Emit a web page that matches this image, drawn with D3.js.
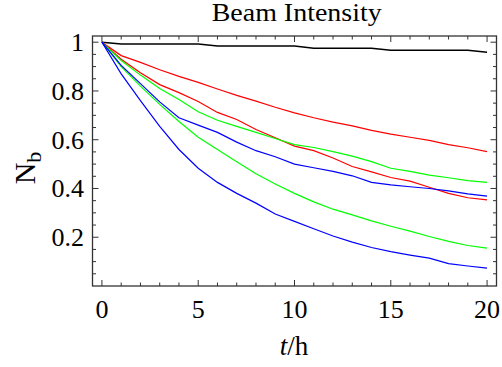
<!DOCTYPE html>
<html>
<head>
<meta charset="utf-8">
<script src="https://cdn.jsdelivr.net/npm/d3@7"></script>
<style>
  body { margin: 0; background: #fff; }
</style>
</head>
<body>
<script>
const width = 502;
const height = 367;
const serif = "\"Liberation Serif\"";

// hours
const hours = d3.range(0, 21);

// beam intensity curves, one value per hour
const blackSeries = [1.0, 0.993, 0.993, 0.993, 0.993, 0.993, 0.984, 0.984, 0.984, 0.984, 0.984, 0.975, 0.975, 0.975, 0.975, 0.967, 0.967, 0.967, 0.967, 0.967, 0.959];
const redUpper = [1.0, 0.945, 0.917, 0.887, 0.86, 0.835, 0.808, 0.782, 0.758, 0.733, 0.71, 0.69, 0.672, 0.657, 0.638, 0.623, 0.61, 0.597, 0.58, 0.567, 0.551];
const redLower = [1.0, 0.93, 0.875, 0.826, 0.793, 0.757, 0.712, 0.683, 0.642, 0.608, 0.574, 0.555, 0.525, 0.49, 0.468, 0.445, 0.43, 0.405, 0.38, 0.362, 0.353];
const greenUpper = [1.0, 0.925, 0.865, 0.81, 0.765, 0.715, 0.68, 0.655, 0.63, 0.605, 0.58, 0.568, 0.551, 0.533, 0.51, 0.483, 0.47, 0.455, 0.444, 0.432, 0.425];
const greenLower = [1.0, 0.9, 0.82, 0.745, 0.675, 0.61, 0.56, 0.51, 0.46, 0.418, 0.38, 0.345, 0.315, 0.292, 0.267, 0.245, 0.225, 0.203, 0.183, 0.166, 0.155];
const blueUpper = [1.0, 0.905, 0.83, 0.755, 0.69, 0.66, 0.63, 0.59, 0.555, 0.53, 0.5, 0.485, 0.47, 0.452, 0.425, 0.415, 0.407, 0.4, 0.39, 0.378, 0.369];
const blueLower = [1.0, 0.87, 0.76, 0.655, 0.56, 0.483, 0.425, 0.38, 0.34, 0.295, 0.265, 0.235, 0.205, 0.18, 0.158, 0.141, 0.127, 0.114, 0.092, 0.082, 0.073];

const seriesList = [
    { values: blackSeries, color: "#000000", w: 1.5 },
    { values: redUpper, color: "#ff0000", w: 1.2 },
    { values: redLower, color: "#ff0000", w: 1.2 },
    { values: greenUpper, color: "#00ff00", w: 1.2 },
    { values: greenLower, color: "#00ff00", w: 1.2 },
    { values: blueUpper, color: "#0000ff", w: 1.2 },
    { values: blueLower, color: "#0000ff", w: 1.2 }
];

const xTickLabels = [0, 5, 10, 15, 20];
const yTickLabels = [0.2, 0.4, 0.6, 0.8, 1];

const x = d3.scaleLinear().domain([-0.49, 20.49]).range([92.5, 496.5]);
const y = d3.scaleLinear().domain([0, 1.0254]).range([286, 36]);

const svg = d3.create("svg")
    .attr("width", width)
    .attr("height", height);

// curves
const line = d3.line()
    .x((d, i) => x(hours[i]))
    .y(d => y(d));

svg.append("g")
    .selectAll("path")
    .data(seriesList)
    .join("path")
    .attr("d", d => line(d.values))
    .attr("fill", "none")
    .attr("stroke", d => d.color)
    .attr("stroke-width", d => d.w);

// frame ticks (inward, all four sides)
const frameColor = "#333";
const xMinor = d3.range(0, 21, 1);
const yMinor = d3.range(1, 21).map(v => v * 0.05);
const ticks = svg.append("g").attr("stroke", frameColor).attr("stroke-width", 1);

xMinor.forEach(t => {
    const len = t % 5 === 0 ? 6 : 3.5;
    ticks.append("line").attr("x1", x(t)).attr("x2", x(t)).attr("y1", 286).attr("y2", 286 - len);
    ticks.append("line").attr("x1", x(t)).attr("x2", x(t)).attr("y1", 36).attr("y2", 36 + len);
});
yMinor.forEach(v => {
    const major = Math.abs(v * 5 - Math.round(v * 5)) < 1e-6;
    const len = major ? 6 : 3.5;
    ticks.append("line").attr("x1", 92.5).attr("x2", 92.5 + len).attr("y1", y(v)).attr("y2", y(v));
    ticks.append("line").attr("x1", 496.5).attr("x2", 496.5 - len).attr("y1", y(v)).attr("y2", y(v));
});

svg.append("rect")
    .attr("x", 92.5)
    .attr("y", 36)
    .attr("width", 404)
    .attr("height", 250)
    .attr("fill", "none")
    .attr("stroke", frameColor)
    .attr("stroke-width", 1.3);

// tick labels
svg.append("g")
    .selectAll("text")
    .data(xTickLabels)
    .join("text")
    .attr("x", d => x(d))
    .attr("y", 318)
    .attr("text-anchor", "middle")
    .style("font-family", serif)
    .attr("font-size", 26)
    .text(d => d);

svg.append("g")
    .selectAll("text")
    .data(yTickLabels)
    .join("text")
    .attr("x", 84)
    .attr("y", d => y(d) + 9)
    .attr("text-anchor", "end")
    .style("font-family", serif)
    .attr("font-size", 26)
    .text(d => d);

// title
svg.append("text")
    .attr("x", 296.7)
    .attr("y", 21)
    .attr("text-anchor", "middle")
    .style("font-family", serif)
    .attr("font-size", 25)
    .attr("textLength", 170)
    .attr("lengthAdjust", "spacingAndGlyphs")
    .text("Beam Intensity");

// axis labels
const xLabel = svg.append("text")
    .attr("x", 294)
    .attr("y", 355)
    .attr("text-anchor", "middle")
    .style("font-family", serif)
    .attr("font-size", 27);
xLabel.append("tspan").attr("font-style", "italic").text("t");
xLabel.append("tspan").text("/h");

const yLabel = svg.append("text")
    .attr("transform", "translate(35,168) rotate(-90)")
    .attr("text-anchor", "middle")
    .style("font-family", serif)
    .attr("font-size", 30);
yLabel.append("tspan").text("N");
yLabel.append("tspan").attr("font-size", 22).attr("dy", 6).text("b");

document.body.appendChild(svg.node());
</script>
</body>
</html>
